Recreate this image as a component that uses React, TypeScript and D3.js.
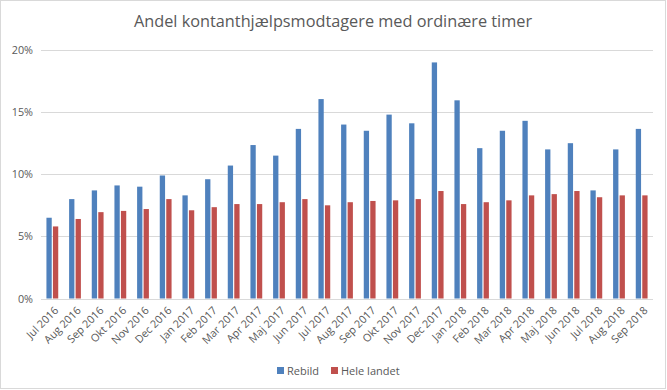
import React from "react";
import * as d3 from "d3";

const months = ["Jul 2016","Aug 2016","Sep 2016","Okt 2016","Nov 2016","Dec 2016","Jan 2017","Feb 2017","Mar 2017","Apr 2017","Maj 2017","Jun 2017","Jul 2017","Aug 2017","Sep 2017","Okt 2017","Nov 2017","Dec 2017","Jan 2018","Feb 2018","Mar 2018","Apr 2018","Maj 2018","Jun 2018","Jul 2018","Aug 2018","Sep 2018"];
const rebild = [6.5,8.0,8.7,9.1,9.0,9.9,8.3,9.6,10.7,12.35,11.5,13.65,16.05,14.0,13.5,14.8,14.1,19.0,15.95,12.1,13.5,14.3,12.0,12.5,8.7,12.0,13.65];
const heleLandet = [5.8,6.4,6.95,7.05,7.2,8.0,7.1,7.35,7.6,7.6,7.75,8.0,7.5,7.75,7.85,7.9,8.0,8.65,7.6,7.75,7.9,8.3,8.4,8.65,8.15,8.3,8.3];
const yTicks = [0,5,10,15,20];
const seriesNames = ["Rebild","Hele landet"];
const colors = ["#4f81bd","#c0504d"];

const W = 667, H = 390;
const left = 41, right = 653, top = 50, bottom = 298.5;
const font = "'Open Sans', sans-serif";

export default function App() {
  const x = d3.scaleBand<string>().domain(months).range([left, right]).paddingInner(0).paddingOuter(0);
  const y = d3.scaleLinear().domain([0,20]).range([bottom, top]);
  const bw = x.bandwidth();
  const barW = 5.3;
  const gap = 1.2;
  return (
    <div style={{position:"absolute", left:0, top:0}}>
      <svg width={W} height={H} style={{display:"block"}}>
        <rect x={0} y={0} width={W} height={H} fill="#fff" />
        <rect x={0.5} y={0.5} width={665} height={388} fill="#fff" stroke="#d9d9d9" />
        <text x={333} y={27} textAnchor="middle" fontFamily={font} fontSize={16.3} fill="#595959">Andel kontanthjælpsmodtagere med ordinære timer</text>
        {yTicks.map(t => (
          <g key={t}>
            <line x1={left} x2={right} y1={Math.round(y(t))+0.5} y2={Math.round(y(t))+0.5} stroke="#d9d9d9" strokeWidth={1} />
            <text x={33} y={y(t)+4} textAnchor="end" fontFamily={font} fontSize={10.8} fill="#595959">{t}%</text>
          </g>
        ))}
        {months.map((m,i) => {
          const cx = (x(m) as number) + bw/2;
          return (
            <g key={m}>
              <rect x={cx - gap/2 - barW} y={y(rebild[i])} width={barW} height={bottom - y(rebild[i])} fill={colors[0]} />
              <rect x={cx + gap/2} y={y(heleLandet[i])} width={barW} height={bottom - y(heleLandet[i])} fill={colors[1]} />
              <text transform={`translate(${cx+4},${bottom+10}) rotate(-45)`} textAnchor="end" fontFamily={font} fontSize={10.8} fill="#595959" dy="0.35em">{m}</text>
            </g>
          );
        })}
        <g>
          <rect x={277} y={367} width={7} height={7} fill={colors[0]} />
          <text x={287} y={374.5} fontFamily={font} fontSize={11} fill="#595959">{seriesNames[0]}</text>
          <rect x={331} y={367} width={7} height={7} fill={colors[1]} />
          <text x={341} y={374.5} fontFamily={font} fontSize={11} fill="#595959">{seriesNames[1]}</text>
        </g>
      </svg>
    </div>
  );
}
